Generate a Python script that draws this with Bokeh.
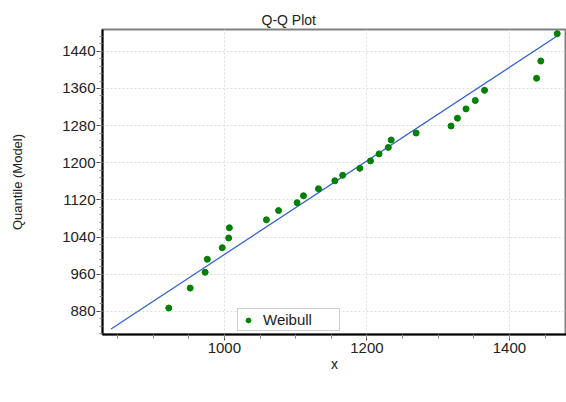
from bokeh.plotting import figure
from bokeh.models import Range1d, SingleIntervalTicker, Legend, LegendItem
from bokeh.embed import file_html
from bokeh.resources import INLINE

# Data
x_sample = [922, 952, 973, 976, 997, 1006, 1007, 1059, 1076, 1102, 1111, 1132, 1155, 1166,
            1190, 1205, 1217, 1230, 1234, 1269, 1318, 1327, 1339, 1352, 1365, 1438, 1444, 1467]
y_model = [887, 930, 964, 992, 1017, 1038, 1060, 1077, 1097, 1114, 1129, 1144, 1161, 1173,
           1188, 1204, 1219, 1233, 1249, 1264, 1279, 1296, 1316, 1334, 1356, 1382, 1419, 1478]
line_x = [841, 1469]
line_y = [842, 1475]
series_name = "Weibull"

FONT = "Liberation Sans"

p = figure(frame_width=464, frame_height=305,
           x_range=Range1d(829, 1480), y_range=Range1d(830, 1487),
           output_backend="svg", toolbar_location=None,
           min_border_left=102, min_border_right=0,
           min_border_top=29, min_border_bottom=68,
           background_fill_color="white", border_fill_color="white")

p.title.text = "Q-Q Plot"
p.title.align = "left"
p.title.offset = 159
p.title.standoff = 3
p.title.text_font = FONT
p.title.text_font_size = "14px"
p.title.text_font_style = "normal"
p.title.text_color = "#222222"

p.outline_line_color = "#808080"
p.outline_line_width = 2

for ax in (p.xaxis[0], p.yaxis[0]):
    ax.axis_line_color = "black"
    ax.axis_line_width = 2
    ax.major_tick_line_color = "#444444"
    ax.minor_tick_line_color = "#888888"
    ax.major_tick_in = 0
    ax.minor_tick_in = 0
    ax.major_label_text_font = FONT
    ax.major_label_text_font_size = "15px"
    ax.major_label_text_color = "#222222"
    ax.axis_label_text_font = FONT
    ax.axis_label_text_font_style = "normal"
    ax.axis_label_text_color = "#222222"

p.xaxis.ticker = SingleIntervalTicker(interval=200, num_minor_ticks=4)
p.yaxis.ticker = SingleIntervalTicker(interval=80, num_minor_ticks=5)
p.xaxis.major_tick_out = 6
p.xaxis.minor_tick_out = 4
p.yaxis.major_tick_out = 6
p.yaxis.minor_tick_out = 3
p.xaxis.major_label_standoff = 2
p.yaxis.major_label_standoff = 1
p.xaxis.axis_label = "x"
p.xaxis.axis_label_text_font_size = "14px"
p.xaxis.axis_label_standoff = 0
p.yaxis.axis_label = "Quantile (Model)"
p.yaxis.axis_label_text_font_size = "13px"
p.yaxis.axis_label_standoff = 34

for g in (p.xgrid[0], p.ygrid[0]):
    g.grid_line_color = "#dedede"
    g.grid_line_dash = "2 2"
    g.grid_line_width = 1

p.line(line_x, line_y, line_color="#2b5fcc", line_width=1.2)
pts = p.scatter(x_sample, y_model, size=6, fill_color="#008000", line_color="#008000")

legend = Legend(items=[LegendItem(label=series_name, renderers=[pts])],
                location=(135, 3), orientation="horizontal")
legend.label_text_font = FONT
legend.label_text_font_size = "15px"
legend.label_text_color = "#222222"
legend.border_line_color = "#a0a0a0"
legend.border_line_width = 1
legend.padding = 2
legend.margin = 0
legend.spacing = 0
legend.glyph_width = 16
legend.glyph_height = 12
legend.label_height = 12
legend.label_width = 74
legend.label_standoff = 7
legend.background_fill_color = "white"
p.add_layout(legend, "center")

open("out.html", "w").write(file_html(p, INLINE))
